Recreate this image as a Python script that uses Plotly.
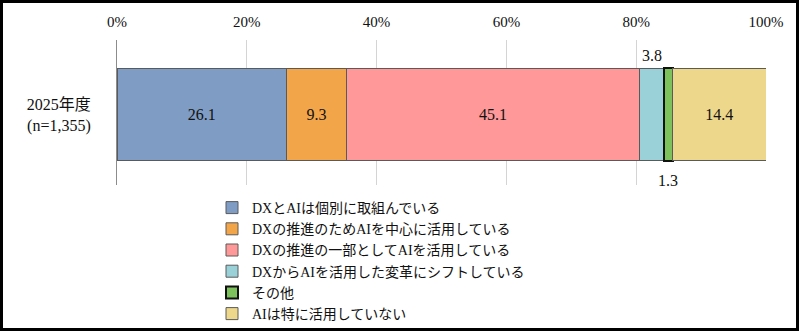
import plotly.graph_objects as go

categories = ["2025年度<br>(n=1,355)"]
series_names = [
    "DXとAIは個別に取組んでいる",
    "DXの推進のためAIを中心に活用している",
    "DXの推進の一部としてAIを活用している",
    "DXからAIを活用した変革にシフトしている",
    "その他",
    "AIは特に活用していない",
]
values = [26.1, 9.3, 45.1, 3.8, 1.3, 14.4]
colors = ["#7F9CC4", "#F3A54A", "#FF9898", "#9AD1D9", "#7CC15C", "#EDD78B"]
label_mode = ["inside", "inside", "inside", "above", "below", "inside"]
tick_vals = [0, 20, 40, 60, 80, 100]
tick_text = ["0%", "20%", "40%", "60%", "80%", "100%"]

W, H = 800, 332
ML, MR, MT, MB = 117, 34, 40, 147
PW, PH = W - ML - MR, H - MT - MB

FONT = "Liberation Serif, Noto Sans CJK JP, serif"

fig = go.Figure()
cum = 0
annotations = []
for name, v, c, mode in zip(series_names, values, colors, label_mode):
    is_other = name == "その他"
    fig.add_trace(go.Bar(
        y=categories, x=[v], name=name, orientation="h",
        marker=dict(color=c, line=dict(color="#111111" if is_other else "#5a5a5a",
                                       width=2 if is_other else 1)),
        text=[f"{v:.1f}"] if mode == "inside" else None,
        textposition="inside", insidetextanchor="middle",
        textfont=dict(family=FONT, size=16, color="#111111"),
        width=0.64, hoverinfo="name+x",
    ))
    if mode == "above":
        annotations.append(dict(x=cum + v / 2, y=0.32, xref="x", yref="y", yshift=2,
                                text=f"{v:.1f}", showarrow=False, yanchor="bottom",
                                font=dict(family=FONT, size=16, color="#111111")))
    elif mode == "below":
        annotations.append(dict(x=cum + v / 2, y=-0.32, xref="x", yref="y", yshift=-9,
                                text=f"{v:.1f}", showarrow=False, yanchor="top",
                                font=dict(family=FONT, size=16, color="#111111")))
    cum += v

def px2paper_x(px):
    return (px - ML) / PW

def px2paper_y(py):
    return (H - MB - py) / PH

shapes = [dict(type="rect", xref="paper", yref="paper",
               x0=px2paper_x(1.5), x1=px2paper_x(797.5),
               y0=px2paper_y(1.5), y1=px2paper_y(329.5),
               line=dict(color="#000000", width=3), fillcolor="rgba(0,0,0,0)", layer="above")]

fig.update_layout(
    width=W, height=H, barmode="stack",
    margin=dict(l=ML, r=MR, t=MT, b=MB, autoexpand=False),
    paper_bgcolor="white", plot_bgcolor="white",
    font=dict(family=FONT, size=15, color="#111111"),
    showlegend=True,
    legend=dict(x=px2paper_x(212), y=px2paper_y(192), xanchor="left", yanchor="top",
                traceorder="normal", font=dict(family=FONT, size=14, color="#111111"),
                bgcolor="rgba(0,0,0,0)", tracegroupgap=0, itemwidth=30),
    xaxis=dict(range=[0, 100], side="top", tickvals=tick_vals, ticktext=tick_text,
               showgrid=True, gridcolor="#d4d4d4", gridwidth=1, zeroline=False,
               showline=False, ticks="", ticklabelstandoff=9,
               tickfont=dict(family=FONT, size=15)),
    yaxis=dict(range=[-0.486, 0.514], showgrid=False, zeroline=False,
               showline=True, linecolor="#8c8c8c", linewidth=1, ticks="",
               ticklabelstandoff=22, tickfont=dict(family=FONT, size=16)),
    annotations=annotations, shapes=shapes,
)

fig.write_html("out.html")
